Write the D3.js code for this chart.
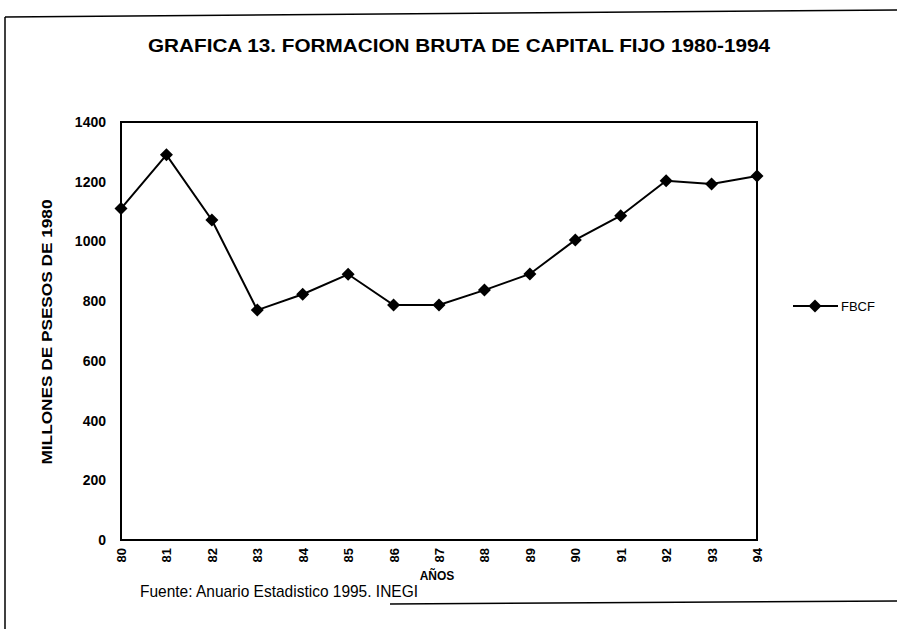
<!DOCTYPE html>
<html>
<head>
<meta charset="utf-8">
<script src="https://cdn.jsdelivr.net/npm/d3@7"></script>
<style>
  html, body { margin: 0; padding: 0; background: #fff; }
  svg { display: block; }
  text { font-family: "Liberation Sans", Arial, sans-serif; fill: #000; }
</style>
</head>
<body>
<svg id="chart" width="897" height="629"></svg>
<script>
const years = ["80","81","82","83","84","85","86","87","88","89","90","91","92","93","94"];
const fbcf = [1110, 1290, 1072, 770, 823, 890, 787, 787, 837, 891, 1005, 1086, 1203, 1192, 1219];
const yTicks = [0, 200, 400, 600, 800, 1000, 1200, 1400];
const seriesName = "FBCF";
const titleText = "GRAFICA 13. FORMACION BRUTA DE CAPITAL FIJO 1980-1994";
const yAxisTitle = "MILLONES DE PSESOS DE 1980";
const xAxisTitle = "AÑOS";
const sourceText = "Fuente: Anuario Estadistico 1995. INEGI";

const svg = d3.select("#chart");
const plot = { left: 121, right: 757, top: 122, bottom: 540 };

const x = d3.scalePoint().domain(years).range([plot.left, plot.right]);
const y = d3.scaleLinear().domain([0, 1400]).range([plot.bottom, plot.top]);

// outer frame (partial, as in the scan)
svg.append("line").attr("x1", 5).attr("y1", 17).attr("x2", 897).attr("y2", 10)
  .attr("stroke", "#000").attr("stroke-width", 1.5);
svg.append("line").attr("x1", 5).attr("y1", 17).attr("x2", 5).attr("y2", 629)
  .attr("stroke", "#000").attr("stroke-width", 1.5);
svg.append("line").attr("x1", 390).attr("y1", 604).attr("x2", 897).attr("y2", 601)
  .attr("stroke", "#000").attr("stroke-width", 1.5);

// title
svg.append("text").attr("x", 459).attr("y", 52).attr("text-anchor", "middle")
  .attr("font-size", 19).attr("font-weight", "bold")
  .attr("textLength", 622).attr("lengthAdjust", "spacingAndGlyphs")
  .text(titleText);

// plot box
svg.append("rect").attr("x", plot.left).attr("y", plot.top)
  .attr("width", plot.right - plot.left).attr("height", plot.bottom - plot.top)
  .attr("fill", "none").attr("stroke", "#000").attr("stroke-width", 2);

// y axis
const yAxis = d3.axisLeft(y).tickValues(yTicks).tickFormat(d3.format("d")).tickSize(0).tickPadding(15);
const gy = svg.append("g").attr("transform", `translate(${plot.left},0)`).call(yAxis);
gy.select(".domain").remove();
gy.selectAll("text").attr("font-size", 14).attr("font-weight", "bold")
  .style("font-family", "'Liberation Sans', Arial, sans-serif");

// x axis
const xAxis = d3.axisBottom(x).tickSize(0).tickPadding(0);
const gx = svg.append("g").attr("transform", `translate(0,${plot.bottom})`).call(xAxis);
gx.select(".domain").remove();
gx.selectAll("text")
  .attr("font-size", 13).attr("font-weight", "bold")
  .style("font-family", "'Liberation Sans', Arial, sans-serif")
  .attr("text-anchor", "end")
  .attr("dy", "0.35em")
  .attr("transform", "translate(0,8) rotate(-90)")
  .attr("x", 0).attr("y", 0);

// axis titles
svg.append("text").attr("transform", `translate(52,332) rotate(-90)`)
  .attr("text-anchor", "middle").attr("font-size", 14).attr("font-weight", "bold")
  .attr("textLength", 265).attr("lengthAdjust", "spacingAndGlyphs")
  .text(yAxisTitle);
svg.append("text").attr("x", 437).attr("y", 580).attr("text-anchor", "middle")
  .attr("font-size", 12).attr("font-weight", "bold").text(xAxisTitle);
svg.append("text").attr("x", 140).attr("y", 597)
  .attr("font-size", 17).attr("textLength", 278).attr("lengthAdjust", "spacingAndGlyphs")
  .text(sourceText);

// series line
const line = d3.line().x((d, i) => x(years[i])).y(d => y(d));
svg.append("path").datum(fbcf).attr("d", line)
  .attr("fill", "none").attr("stroke", "#000").attr("stroke-width", 2);

const diamond = "M0,-6.5L6.5,0L0,6.5L-6.5,0Z";
svg.append("g").selectAll("path").data(fbcf).join("path")
  .attr("d", diamond)
  .attr("transform", (d, i) => `translate(${x(years[i])},${y(d)})`)
  .attr("fill", "#000");

// legend
const lg = svg.append("g").attr("transform", "translate(793,306)");
lg.append("line").attr("x1", 0).attr("x2", 45).attr("y1", 0).attr("y2", 0)
  .attr("stroke", "#000").attr("stroke-width", 2);
lg.append("path").attr("d", diamond).attr("transform", "translate(22,0)").attr("fill", "#000");
lg.append("text").attr("x", 48).attr("y", 0).attr("dy", "0.35em")
  .attr("font-size", 13).text(seriesName);
</script>
</body>
</html>
